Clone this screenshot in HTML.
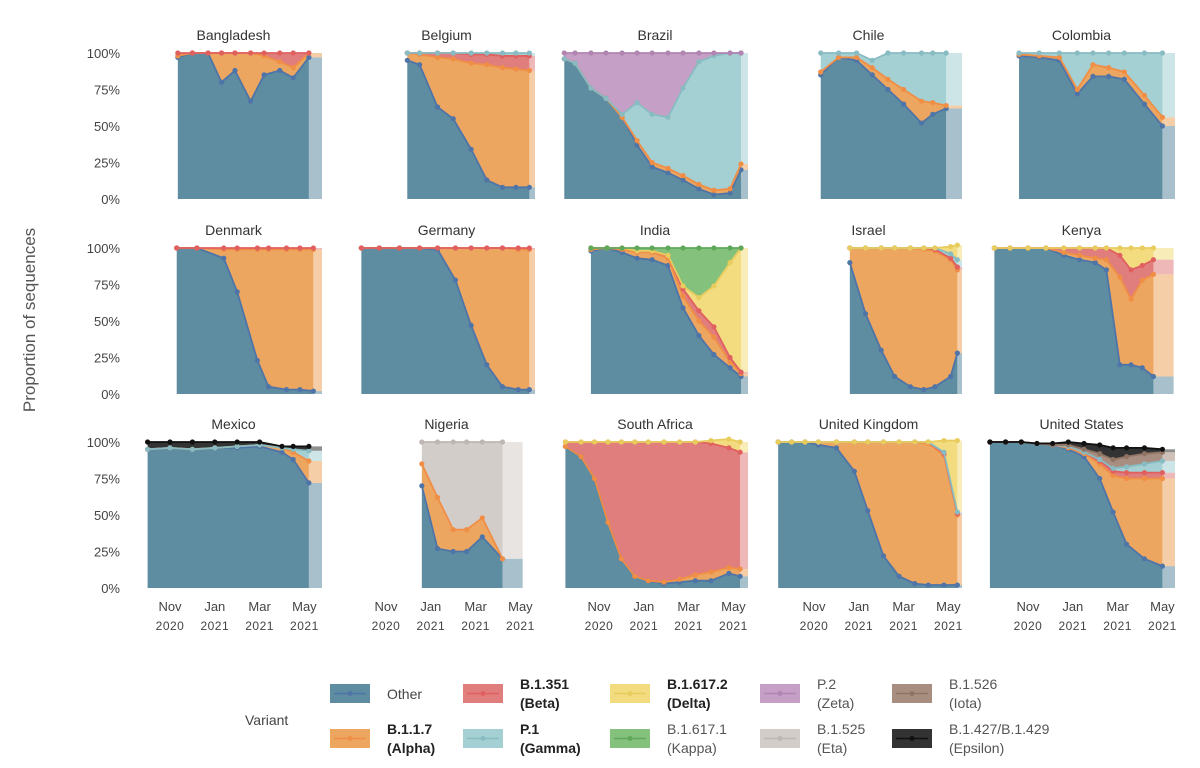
<!DOCTYPE html>
<html><head><meta charset="utf-8">
<style>
body{margin:0;background:#fff;font-family:"Liberation Sans",sans-serif;}
svg text{font-family:"Liberation Sans",sans-serif;}
</style></head>
<body>
<svg id="chart" width="1200" height="763" viewBox="0 0 1200 763" xmlns="http://www.w3.org/2000/svg">
<text x="35" y="320" font-size="17" fill="#555" text-anchor="middle" transform="rotate(-90 35 320)">Proportion of sequences</text>
<g id="panels"></g>
<g id="legend"></g>
</svg>
<script>
const countries=["Bangladesh","Belgium","Brazil","Chile","Colombia","Denmark","Germany","India","Israel","Kenya","Mexico","Nigeria","South Africa","United Kingdom","United States"];
const timePts=[
[0.35,1,1.7,2.3,2.9,3.6,4.2,4.9,5.5,6.2],
[0.95,1.5,2.3,3,3.8,4.5,5.2,5.8,6.4],
[-1.55,-1.07,-0.36,0.31,1.03,1.7,2.37,3.08,3.75,4.46,5.13,5.85,6.34],
[0.3,1.1,1.9,2.6,3.3,4,4.8,5.3,5.9],
[-0.4,0.5,1.4,2.2,2.9,3.6,4.3,5.2,6.0],
[0.3,1.2,2.4,3.0,3.9,4.4,5.2,5.8,6.4],
[-1.1,-0.3,0.6,1.5,2.3,3.1,3.8,4.5,5.2,5.9,6.4],
[-0.36,0.36,1.03,1.7,2.37,3.08,3.75,4.46,5.13,5.85,6.34],
[1.6,2.3,3.0,3.6,4.3,4.9,5.4,6.1,6.4],
[-1.5,-0.8,0,0.8,1.6,2.3,3,3.5,4.1,4.6,5.1,5.6],
[-1.0,0,1,2,3,4,5,5.5,6.2],
[1.6,2.3,3.0,3.6,4.3,5.2],
[-1.5,-0.8,-0.2,0.4,1,1.6,2.2,2.9,3.6,4.3,5,5.8,6.3],
[-1.6,-1,-0.4,0.2,1,1.8,2.4,3.1,3.8,4.5,5.1,5.8,6.4],
[-1.7,-1,-0.3,0.4,1.1,1.8,2.5,3.2,3.8,4.4,5.2,6]];
const otherVals=[
[97,100,100,80,88,67,85,88,83,97],
[95,92,63,55,34,13,8,8,8],
[96,93,76,69,56,37,22,18,13,7,3,4,20],
[85,97,95,85,75,65,52,58,62],
[98,97,95,72,84,84,82,65,50],
[100,100,93,70,23,5,3,3,2],
[100,100,100,100,99,78,47,20,5,3,3],
[98,100,97,93,92,88,59,40,27,18,12],
[90,55,30,12,5,3,5,12,28],
[100,100,100,100,95,92,90,85,20,20,18,12],
[95,96,95,96,96,97,93,88,72],
[70,27,25,25,35,20],
[97,90,75,45,20,8,5,3,4,5,5,10,8],
[100,100,100,98,96,80,53,22,8,3,2,2,2],
[100,100,100,99,98,95,90,75,52,30,20,15]];
const alphaVals=[
[1,0,0,20,12,33,13,6,7,3],
[5,7,34,41,59,79,82,81,80],
[0,0,0,0,0,3,3,3,3,3,3,3,4],
[2,0,2,5,7,10,15,8,2],
[1,1,2,3,8,6,5,6,6],
[0,0,6,29,76,94,96,96,97],
[0,0,0,0,1,22,53,80,95,96,96],
[1,0,2,4,5,5,8,10,12,4,2],
[10,45,70,88,95,96,93,80,57],
[0,0,0,0,2,3,3,7,60,45,60,70],
[0,0,0,0,1,1,3,5,15],
[15,35,15,15,13,0],
[0,0,0,0,0,0,0,1,2,4,6,4,5],
[0,0,0,2,4,20,47,78,92,97,97,89,48],
[0,0,0,0,0,1,2,10,25,45,55,60]];
const betaVals=[
[2,0,0,0,0,0,2,6,10,0],
[0,1,3,4,6,7,8,9,10],
[],[],[],
[0,0,1,1,1,1,1,1,1],
[0,0,0,0,0,0,0,0,0,1,1],
[1,0,1,1,1,2,5,7,7,3,1],
[0,0,0,0,0,1,1,1,2],
[0,0,0,0,3,5,7,8,15,20,10,10],
[],[],
[3,10,25,55,80,92,95,96,94,91,88,82,80],
[0,0,0,0,0,0,0,0,0,0,1,1,1],
[0,0,0,0,0,1,1,2,3,4,4,4]];
const gammaVals=[
[],
[0,0,0,0,1,1,2,2,2],
[0,0,0,0,2,26,33,35,60,84,92,93,76],
[13,3,3,5,18,25,33,34,36],
[1,2,3,25,8,10,13,29,44],
[],[],[],
[0,0,0,0,0,0,1,3,5],
[],
[0,0,0,0,0,0,0,2,7],
[],[],
[0,0,0,0,0,0,0,0,0,0,0,1,1],
[0,0,0,0,0,0,0,1,2,4,6,8]];
const deltaVals=[
[],[],[],[],[],[],[],
[0,0,0,0,0,0,2,9,28,65,85],
[0,0,0,0,0,0,0,5,10],
[0,0,0,0,0,0,0,0,5,15,12,8],
[],[],
[0,0,0,0,0,0,0,0,0,0,2,6,7],
[0,0,0,0,0,0,0,0,0,0,0,8,49],
[]];
const kappaVals=[[],[],[],[],[],[],[],[0,0,0,2,2,5,26,34,26,10,0],[],[],[],[],[],[],[]];
const zetaVals=[[],[],[4,7,24,31,42,34,42,44,24,6,2,0,0],[],[],[],[],[],[],[],[],[],[],[],[]];
const etaVals=[[],[],[],[],[],[],[],[],[],[],[],[15,38,60,60,52,80],[],[],[]];
const iotaVals=[[],[],[],[],[],[],[],[],[],[],[],[],[],[],[0,0,0,0,0,1,2,4,6,7,7,6]];
const epsilonVals=[[],[],[],[],[],[],[],[],[],[],[5,4,5,4,3,2,1,2,3],[],[],[],[0,0,0,0,1,2,4,6,8,6,4,2]];
const tickMonths=[0,2,4,6];
const tickTop=["Nov","Jan","Mar","May"];
const tickBottom=["2020","2021","2021","2021"];
const yTicks=[0,25,50,75,100];

const seriesDefs=[
 {key:"other",vals:otherVals,fill:"#5e8ca1",line:"#4f74a8"},
 {key:"alpha",vals:alphaVals,fill:"#eda660",line:"#f08e46"},
 {key:"beta",vals:betaVals,fill:"#e07e7e",line:"#e06060"},
 {key:"gamma",vals:gammaVals,fill:"#a4d0d3",line:"#88bcc2"},
 {key:"delta",vals:deltaVals,fill:"#f3dc80",line:"#e8cc5e"},
 {key:"kappa",vals:kappaVals,fill:"#84c17d",line:"#5fa85a"},
 {key:"zeta",vals:zetaVals,fill:"#c69fc6",line:"#b085b2"},
 {key:"eta",vals:etaVals,fill:"#d3cdca",line:"#bdb6b2"},
 {key:"iota",vals:iotaVals,fill:"#a88e80",line:"#8f7464"},
 {key:"epsilon",vals:epsilonVals,fill:"#333",line:"#111"}];

const colNov=[170,386,599,814,1028];
const colLeft=[145,358,562,775,988];
const colRight=[322,535,748,962,1175];
const rowTop=[53,248,442];
const plotH=146;
const pxPerMonth=22.4;
const NS="http://www.w3.org/2000/svg";
const panels=document.getElementById("panels");
function mk(tag,attrs,parent){const e=document.createElementNS(NS,tag);for(const k in attrs)e.setAttribute(k,attrs[k]);parent.appendChild(e);return e;}

countries.forEach((name,ci)=>{
 const col=ci%5,row=Math.floor(ci/5);
 const xS=t=>colNov[col]+t*pxPerMonth;
 const yS=v=>rowTop[row]+plotH*(1-v/100);
 const g=mk("g",{},panels);
 
 
 const title=mk("text",{x:(colLeft[col]+colRight[col])/2,y:rowTop[row]-13,"font-size":14,fill:"#333","text-anchor":"middle"},g);
 title.textContent=name;
 
 
 const ts=timePts[ci];
 const n=ts.length;
 const tEnd=Math.min(ts[n-1]+0.9,(colRight[col]-colNov[col])/pxPerMonth);
 let base=new Array(n).fill(0);
 const lines=[];
 seriesDefs.forEach(sd=>{
  const v=sd.vals[ci];
  if(!v||!v.length)return;
  const top=base.map((b,i)=>b+(v[i]||0));
  if(!v.some(x=>x>0)){base=top;return;}
  let d="M"+xS(ts[0])+","+yS(top[0]);
  for(let i=1;i<n;i++)d+=" L"+xS(ts[i])+","+yS(top[i]);
  for(let i=n-1;i>=0;i--)d+=" L"+xS(ts[i])+","+yS(base[i]);
  d+="Z";
  const a=mk("path",{d:d,fill:sd.fill,stroke:"none"},g);
  
  
  const ext=mk("path",{d:"M"+xS(ts[n-1])+","+yS(top[n-1])+" L"+xS(tEnd)+","+yS(top[n-1])+" L"+xS(tEnd)+","+yS(base[n-1])+" L"+xS(ts[n-1])+","+yS(base[n-1])+"Z",fill:sd.fill,opacity:0.55},g);
  
  
  lines.push({sd:sd,top:top});
  base=top;
 });
 lines.forEach(L=>{
  let d="";
  for(let i=0;i<n;i++)d+=(i?" L":"M")+xS(ts[i])+","+yS(L.top[i]);
  const p=mk("path",{d:d,fill:"none",stroke:L.sd.line,"stroke-width":1.8},g);
  
  
  for(let i=0;i<n;i++){
   const c=mk("circle",{cx:xS(ts[i]),cy:yS(L.top[i]),r:2.6,fill:L.sd.line},g);
   
   
  }
 });
 if(col===0){
  yTicks.forEach(v=>{
   const t=mk("text",{x:120,y:yS(v)+5,"font-size":13,fill:"#444","text-anchor":"end"},g);
   t.textContent=v+"%";
   
   
  });
 }
 if(row===2 || ci===11){
  tickMonths.forEach((m,i)=>{
   const t1=mk("text",{x:xS(m),y:611,"font-size":13,fill:"#444","text-anchor":"middle"},g);
   t1.textContent=tickTop[i];
   
   
   const t2=mk("text",{x:xS(m),y:630,"font-size":12,fill:"#444","text-anchor":"middle","letter-spacing":"0.5"},g);
   t2.textContent=tickBottom[i];
   
   
  });
 }
});

const legend=document.getElementById("legend");
const vt=mk("text",{x:245,y:725,"font-size":14,fill:"#444"},legend);
vt.textContent="Variant";


const legItems=[
 ["other","Other","",false,0,0],["beta","B.1.351","(Beta)",true,1,0],["delta","B.1.617.2","(Delta)",true,2,0],["zeta","P.2","(Zeta)",false,3,0],["iota","B.1.526","(Iota)",false,4,0],
 ["alpha","B.1.1.7","(Alpha)",true,0,1],["gamma","P.1","(Gamma)",true,1,1],["kappa","B.1.617.1","(Kappa)",false,2,1],["eta","B.1.525","(Eta)",false,3,1],["epsilon","B.1.427/B.1.429","(Epsilon)",false,4,1]];
const legX=[330,463,610,760,892];
const legY=[684,729];
legItems.forEach(it=>{
 const sd=seriesDefs.find(s=>s.key===it[0]);
 const x=legX[it[4]],y=legY[it[5]];
 const g=mk("g",{},legend);
 
 
 mk("rect",{x:x,y:y,width:40,height:19,fill:sd.fill},g);
 mk("line",{x1:x+4,y1:y+9.5,x2:x+36,y2:y+9.5,stroke:sd.line,"stroke-width":1.5},g);
 mk("circle",{cx:x+20,cy:y+9.5,r:2.5,fill:sd.line},g);
 const w=it[3]?"bold":"normal";
 if(it[2]===""){
  const t=mk("text",{x:x+57,y:y+15,"font-size":14,fill:"#444"},g);t.textContent=it[1];
 } else {
  const t=mk("text",{x:x+57,y:y+5,"font-size":14,fill:it[3]?"#222":"#555","font-weight":w},g);t.textContent=it[1];
  const t2=mk("text",{x:x+57,y:y+24,"font-size":14,fill:it[3]?"#222":"#555","font-weight":w},g);t2.textContent=it[2];
 }
});
</script>
</body></html>
